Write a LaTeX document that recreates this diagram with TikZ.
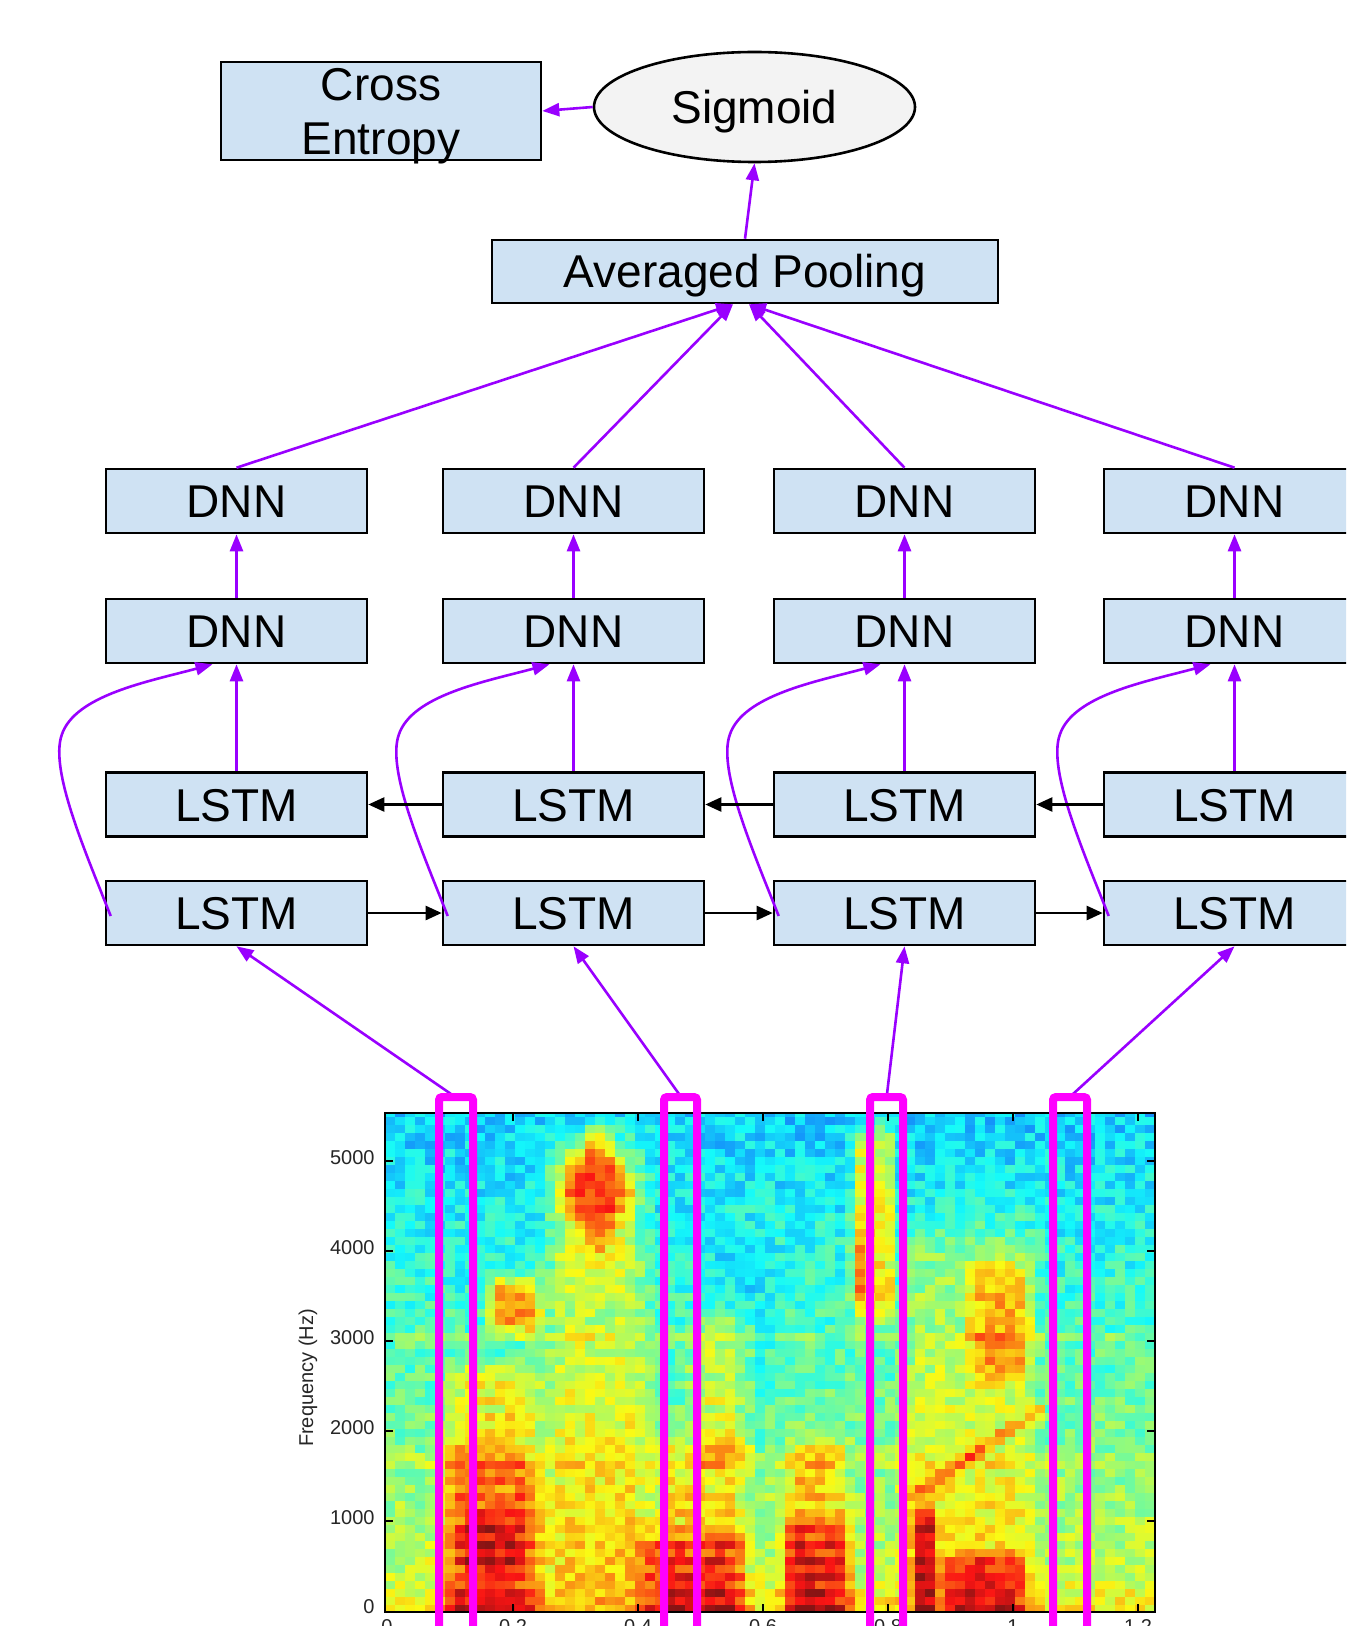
\documentclass[tikz,border=0pt]{standalone}
\usepackage{fontspec}
\setmainfont{Liberation Sans}
\usetikzlibrary{shapes.geometric,arrows.meta,calc}

\definecolor{boxfill}{HTML}{CFE2F3}
\definecolor{ovalfill}{HTML}{F3F3F3}
\definecolor{flow}{HTML}{9900FF}
\definecolor{winc}{HTML}{FF00FF}

% soft box: 1 inside [lo,hi], linear ramps of width e at both edges
\makeatletter
\pgfmathdeclarefunction{sb}{4}{%
  \begingroup
  \pgfmathparse{max(0,min(1,(#1-#2)/#4))*max(0,min(1,(#3-#1)/#4))}%
  \pgfmath@smuggleone\pgfmathresult
  \endgroup}
\makeatother
% product of a column factor and a row factor of one spectral region
\newcommand\specterm[1]{\csname cx@#1\endcsname*\csname ry@\j @#1\endcsname}

\tikzset{
  boxbase/.style={draw=black, line width=1.3pt, fill=boxfill, inner sep=0pt},
  layer/.style={boxbase, minimum width=130.5pt, minimum height=32pt,
    text height=16.5pt, text depth=0pt, font=\fontsize{23}{27}\selectfont},
  flowarrow/.style={draw=flow, line width=1.3pt, -{Triangle[length=8.5pt,width=6.5pt]}},
  recur/.style={draw=black, line width=1.2pt, -{Triangle[length=8pt,width=7pt]}},
  window/.style={draw=winc, line width=4pt, rounded corners=1.5pt},
  axtick/.style={line width=0.6pt},
  ticklabel/.style={font=\fontsize{10}{12}\selectfont, inner sep=0pt, text=black!85},
}

\begin{document}
\begin{tikzpicture}[x=0.5pt,y=-0.5pt]
\useasboundingbox (0,0) rectangle (1346,1626);
\clip (0,0) rectangle (1346,1626);
\fill[white] (0,0) rectangle (1346,1626);

% ---------------- spectrogram (jet colour map) ----------------
\pgfmathsetseed{1234}
% row factors
\foreach \j in {0,...,62}{%
  \pgfmathsetmacro\Y{1608-8*\j}%
  \pgfmathsetmacro\rb{0.585-0.26*(1612-\Y)/499+0.06*sb(\Y,1575,1700,30)+0.05*sb(\Y,1330,1346,6)+0.05*sb(\Y,1452,1470,8)}%
  \expandafter\xdef\csname rb@\j\endcsname{\rb}%
  \foreach \k/\lo/\hi/\ed in {n1/1100/1640/60, n2/1190/1640/60, n3/1120/1300/45,
      n4/1110/1335/35, n5/1225/1310/20, n6/1268/1342/22, n7/1250/1390/25,
      n8/1230/1460/40, w1/1420/1700/60, w2/1350/1700/30, w3/1505/1580/18,
      w4/1520/1700/25, w5/1420/1700/40, w6/1300/1480/30, w7/1510/1700/25,
      w8/1420/1700/35, w9/1500/1700/20, w10/1545/1700/20}{%
    \pgfmathsetmacro\fac{sb(\Y,\lo,\hi,\ed)}%
    \expandafter\xdef\csname ry@\j @\k\endcsname{\fac}%
  }%
}
\begin{scope}
\clip (385,1113) rectangle (1155,1612);
\foreach \i in {0,...,76}{%
  \pgfmathsetmacro\X{390+10*\i}%
  \foreach \k/\amp/\lo/\hi/\ed in {n1/0.12/535/660/30, n2/0.10/890/1045/30,
      n3/0.10/545/645/30, n4/0.24/848/900/12, n5/0.16/850/866/8,
      n6/0.30/482/548/18, n7/0.18/960/1040/22, n8/-0.05/690/790/30,
      w1/0.12/427/553/25, w2/0.14/435/550/30, w3/0.10/455/535/18,
      w4/0.16/633/752/10, w5/0.12/645/752/25, w6/0.14/684/760/25,
      w7/0.16/776/858/10, w8/0.15/780/852/18, w9/0.26/908/938/8,
      w10/0.22/932/1035/22}{%
    \pgfmathsetmacro\fac{\amp*sb(\X,\lo,\hi,\ed)}%
    \expandafter\xdef\csname cx@\k\endcsname{\fac}%
  }%
  \foreach \j in {0,...,62}{%
    \pgfmathsetmacro\Y{1608-8*\j}%
    \edef\wexp{\specterm{w1}+\specterm{w2}+\specterm{w3}+\specterm{w4}+\specterm{w5}+\specterm{w6}+\specterm{w7}+\specterm{w8}+\specterm{w9}+\specterm{w10}}%
    \pgfmathsetmacro\cellw{\wexp}%
    \edef\nexp{\specterm{n1}+\specterm{n2}+\specterm{n3}+\specterm{n4}+\specterm{n5}+\specterm{n6}+\specterm{n7}+\specterm{n8}}%
    \def\lineterm{0}%
    % rising formant line
    \ifdim\X pt>900pt \ifdim\X pt<1045pt
      \pgfmathsetmacro\lineterm{0.2*max(0,1-abs(\Y-1493+(\X-913)*0.653)/11)}%
    \fi\fi
    % high frequency fricative patch
    \ifdim\X pt>540pt \ifdim\X pt<650pt
      \pgfmathsetmacro\lineterm{0.25*min(1,2*max(0,1-abs(\X-595)/50-abs(\Y-1188)/80))}%
    \fi\fi
    \ifodd\j \def\cells{-1}\else\def\cells{1}\fi
    \pgfmathsetmacro\cellv{max(0,min(1,\csname rb@\j\endcsname+0.07*rand+\nexp+\lineterm+\cellw+0.05*\cells*min(1,3*\cellw)))}%
    \pgfmathsetmacro\colR{0.08+0.9*max(0,min(1,1.5-abs(4*\cellv-3)))}%
    \pgfmathsetmacro\colG{0.08+0.9*max(0,min(1,1.5-abs(4*\cellv-2)))}%
    \pgfmathsetmacro\colB{0.08+0.9*max(0,min(1,1.5-abs(4*\cellv-1)))}%
    \definecolor{cellc}{rgb}{\colR,\colG,\colB}%
    \fill[cellc] (\X-5,\Y-4) rectangle (\X+5.6,\Y+4.6);
  }%
}
\end{scope}

% axes frame, ticks and labels
\draw[line width=0.8pt] (385,1113) rectangle (1155,1612);
\foreach \yy in {1161,1251,1341,1431,1521}{
  \draw[axtick] (385,\yy) -- (393,\yy);
  \draw[axtick] (1155,\yy) -- (1147,\yy);
}
\foreach \xx in {513,638,763,888,1013,1138}{
  \draw[axtick] (\xx,1612) -- (\xx,1604);
  \draw[axtick] (\xx,1113) -- (\xx,1121);
}
\foreach \yy/\lab in {1158/5000,1248/4000,1338/3000,1428/2000,1518/1000,1607/0}{
  \node[ticklabel, anchor=east] (yl\lab) at (375,\yy) {\lab};
}
\foreach \xx/\lab/\nm in {387/0/a,513/0.2/b,638/0.4/c,763/0.6/d,888/0.8/e,1013/1/f,1138/1.2/g}{
  \node[ticklabel, anchor=north] (xl\nm) at (\xx,1619) {\lab};
}
\node[ticklabel, rotate=90] (ylab) at (308,1378) {Frequency (Hz)};

% ---------------- network ----------------
\node[boxbase, minimum width=160pt, minimum height=49pt] (xent) at (381,111) {};
\node[inner sep=0pt, align=center, font=\fontsize{23}{27}\selectfont] (xenttext) at (381,116) {Cross\\Entropy};
\node[ellipse, draw=black, line width=1.3pt, fill=ovalfill, minimum width=160.5pt,
  minimum height=55pt, inner sep=0pt, text height=16.5pt, text depth=0pt,
  font=\fontsize{23}{27}\selectfont] (sig) at (754.5,107) {Sigmoid};
\node[layer, minimum width=253pt, minimum height=31.5pt] (pool) at (745,271.5) {Averaged Pooling};

\foreach \k/\cx in {1/236.5,2/573.5,3/904.5,4/1234.5}{
  \node[layer] (dnnA\k) at (\cx,501) {DNN};
  \node[layer] (dnnB\k) at (\cx,631) {DNN};
  \node[layer] (lstmA\k) at (\cx,804.5) {LSTM};
  \node[layer] (lstmB\k) at (\cx,913) {LSTM};
}

\coordinate (poolL) at ($(pool.south)+(-12,0)$);
\coordinate (poolR) at ($(pool.south)+(4,0)$);

\draw[flowarrow] (pool.north) -- (sig.south);
\draw[flowarrow] (sig.west) -- (xent.east);
\foreach \k in {1,2}{\draw[flowarrow] (dnnA\k.north) -- (poolL);}
\foreach \k in {3,4}{\draw[flowarrow] (dnnA\k.north) -- (poolR);}

\foreach \k in {1,2,3,4}{
  \draw[flowarrow] (dnnB\k.north) -- (dnnA\k.south);
  \draw[flowarrow] (lstmA\k.north) -- (dnnB\k.south);
  % skip connection from the lower LSTM to the DNN
  \coordinate (s\k) at ($(lstmB\k.west)+(6,3)$);
  \coordinate (e\k) at ($(dnnB\k.south)+(-24,0)$);
  \draw[flowarrow] (s\k) .. controls ($(s\k)+(-26,-66)$) and ($(s\k)+(-61,-146)$) ..
    ($(s\k)+(-49,-181)$) .. controls ($(s\k)+(-36,-221)$) and ($(e\k)+(-63,17)$) .. (e\k);
}

% recurrent links
\draw[recur] (lstmA2.west) -- (lstmA1.east);
\draw[recur] (lstmA3.west) -- (lstmA2.east);
\draw[recur] (lstmA4.west) -- (lstmA3.east);
\draw[recur] (lstmB1.east) -- (lstmB2.west);
\draw[recur] (lstmB2.east) -- (lstmB3.west);
\draw[recur] (lstmB3.east) -- (lstmB4.west);

% frames taken from the spectrogram
\coordinate (w1) at (451,1094);
\coordinate (w2) at (679,1094);
\coordinate (w3) at (887,1094);
\coordinate (w4) at (1073,1094);
\foreach \k in {1,2,3,4}{\draw[flowarrow] (w\k) -- (lstmB\k.south);}
\foreach \lft/\rgt in {439/473,664/697,870/903,1053/1087}{
  \draw[window] (\lft,1650) -- (\lft,1097) -- (\rgt,1097) -- (\rgt,1650);
}
\end{tikzpicture}
\end{document}
